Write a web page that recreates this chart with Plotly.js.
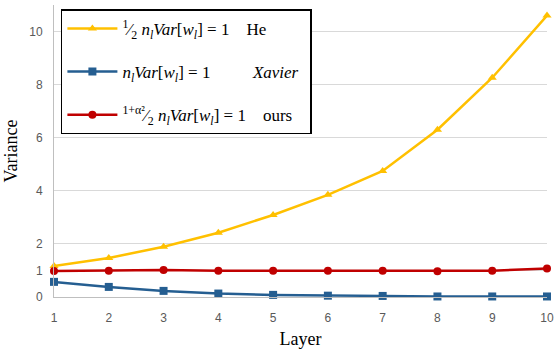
<!DOCTYPE html>
<html><head><meta charset="utf-8">
<script src="https://cdn.plot.ly/plotly-3.0.1.min.js"></script>
<style>html,body{margin:0;padding:0;background:#fff}#c{width:560px;height:349px}</style>
</head><body><div id="c"></div>
<script>
const layers = [1,2,3,4,5,6,7,8,9,10];
const heVar = [1.17,1.47,1.89,2.42,3.09,3.85,4.75,6.3,8.26,10.6];
const xavierVar = [0.57,0.38,0.23,0.13,0.08,0.05,0.04,0.02,0.02,0.02];
const oursVar = [0.98,0.99,1.02,0.99,0.99,0.99,0.99,0.97,0.99,1.07];
const yTicks = [0,1,2,4,6,8,10];
const xTicks = [1,2,3,4,5,6,7,8,9,10];
const names = [
  "<sup>1</sup>⁄<sub>2</sub> <i>n<sub>l</sub>Var</i>[<i>w<sub>l</sub></i>] = 1    He",
  "<i>n<sub>l</sub>Var</i>[<i>w<sub>l</sub></i>] = 1          <i>Xavier</i>",
  "<sup>1+α²</sup>⁄<sub>2</sub> <i>n<sub>l</sub>Var</i>[<i>w<sub>l</sub></i>] = 1    ours   "
];
const SERIF = 'Liberation Serif';
const traces = [
  {x: layers, y: heVar, name: names[0], legendgroup:'a', mode:'lines+markers',
   line:{color:'#FFC000', width:2.5}, marker:{symbol:'triangle-up', size:8, color:'#FFC000'}},
  {x: layers, y: xavierVar, name: names[1], legendgroup:'b', mode:'lines+markers',
   line:{color:'#255E91', width:2.5}, marker:{symbol:'square', size:8, color:'#255E91'}},
  {x: layers, y: oursVar, name: names[2], legendgroup:'c', mode:'lines+markers',
   line:{color:'#C00000', width:2.5}, marker:{symbol:'circle', size:8, color:'#C00000'}}
].map(t => Object.assign(t, {cliponaxis:false}));
const layout = {
  width:560, height:349,
  margin:{l:54, r:13, t:5, b:52},
  paper_bgcolor:'#fff', plot_bgcolor:'#fff',
  showlegend:true,
  legend:{x:0.014, y:0.985, xanchor:'left', yanchor:'top', bgcolor:'#fff',
    bordercolor:'#000', borderwidth:1.5, traceorder:'grouped', tracegroupgap:18,
    itemwidth:50,
    font:{family:SERIF, size:17, color:'#000'}},
  xaxis:{range:[1,10], tickvals:xTicks, showgrid:false, zeroline:false,
    showline:true, linecolor:'#bfbfbf', linewidth:1, ticks:'', ticklabelstandoff:10,
    tickfont:{family:'Liberation Sans', size:12, color:'#595959'},
    title:{text:'Layer', font:{family:SERIF, size:18, color:'#000'}, standoff:10}},
  yaxis:{range:[0,11], tickvals:yTicks, showgrid:true, gridcolor:'#d9d9d9', zeroline:false,
    showline:true, linecolor:'#bfbfbf', linewidth:1, ticks:'', ticklabelstandoff:8,
    tickfont:{family:'Liberation Sans', size:12, color:'#595959'},
    title:{text:'Variance', font:{family:SERIF, size:18, color:'#000'}, standoff:6}}
};
Plotly.newPlot('c', traces, layout, {displayModeBar:false, staticPlot:true});
</script></body></html>
